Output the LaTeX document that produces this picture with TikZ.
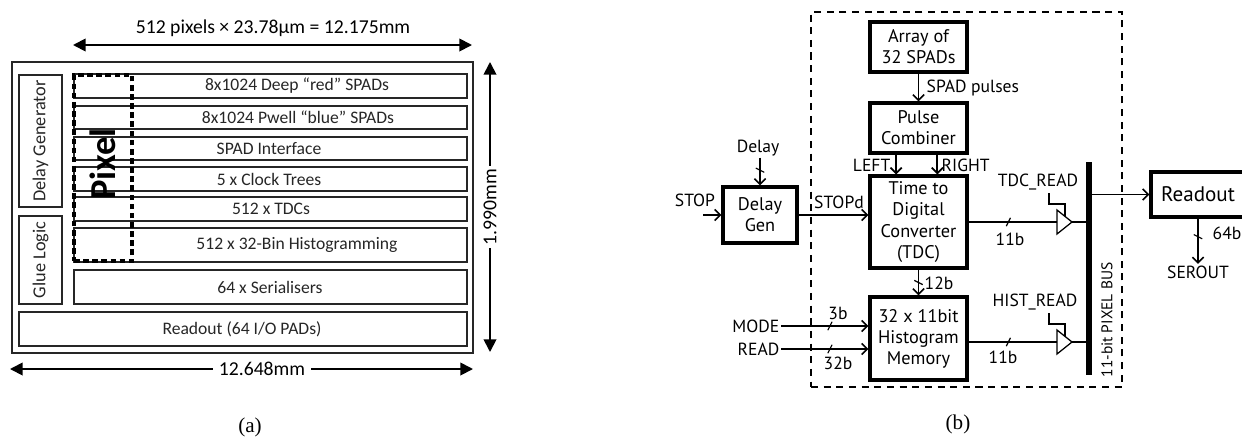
\documentclass[tikz,border=0pt]{standalone}
\usepackage{fontspec}
\setmainfont{Liberation Serif}
\newfontfamily\chipfont{Carlito}
\newfontfamily\blockfont{PT Sans}
\usetikzlibrary{arrows.meta, decorations.markings}

\tikzset{
  buswidth/.style={postaction={decorate},
    decoration={markings, mark=at position #1 with {\draw[line width=0.8pt,-] (-1.5pt,-3pt) -- (1.5pt,3pt);}}},
}

\begin{document}
\begin{tikzpicture}[x=0.025cm, y=-0.025cm,
    chip box/.style={draw=black!85, line width=1.1pt, inner sep=0pt},
    row text/.style={font=\chipfont\fontsize{12.5}{14}\selectfont, inner sep=0pt, text=black!85},
    dim text/.style={font=\chipfont\fontsize{14}{16}\selectfont, inner sep=2pt},
    dim arrow/.style={-{Triangle[length=9pt,width=9pt]}, line width=1.3pt},
    blk/.style={draw, line width=2.2pt, align=center, inner sep=0pt, font=\blockfont\fontsize{13}{15}\selectfont},
    lbl/.style={font=\blockfont\fontsize{12.5}{14}\selectfont, inner sep=1pt},
    arrow/.style={-{Straight Barb[length=4pt,width=8pt]}, line width=1.2pt},
    wire/.style={line width=0.9pt, line join=miter},
    caption/.style={font=\fontsize{15}{17}\selectfont}
    ]
    \useasboundingbox (0,0) rectangle (1242,441);

    % (a) floor plan
    \node[chip box, minimum width=11.525cm, minimum height=7.275cm] (chip) at (242.5,207.5) {};

    \node[chip box, minimum width=1.075cm, minimum height=3.3cm] (dgenblk) at (40.5,141) {};
    \node[row text, rotate=90, font=\chipfont\fontsize{13}{15}\selectfont] (dgentxt) at (40.5,141) {Delay Generator};
    \node[chip box, minimum width=1.075cm, minimum height=2.2cm] (glue) at (40.5,260) {};
    \node[row text, rotate=90, font=\chipfont\fontsize{13}{15}\selectfont] (gluetxt) at (40.5,260) {Glue Logic};

    \node[chip box, minimum width=9.825cm, minimum height=0.6cm] (deep) at (270.5,86) {};
    \node[row text] (deeptxt) at (297,86) {8x1024 Deep “red” SPADs};
    \node[chip box, minimum width=9.825cm, minimum height=0.575cm] (pwell) at (270.5,117.5) {};
    \node[row text] (pwelltxt) at (298,117.5) {8x1024 Pwell “blue” SPADs};
    \node[chip box, minimum width=9.825cm, minimum height=0.575cm] (intf) at (270.5,148.5) {};
    \node[row text] (intftxt) at (269,148.5) {SPAD Interface};
    \node[chip box, minimum width=9.825cm, minimum height=0.6cm] (clk) at (270.5,179) {};
    \node[row text] (clktxt) at (269,179) {5 x Clock Trees};
    \node[chip box, minimum width=9.825cm, minimum height=0.6cm] (tdcs) at (270.5,209) {};
    \node[row text] (tdcstxt) at (271,209) {512 x TDCs};
    \node[chip box, minimum width=9.825cm, minimum height=0.85cm] (histo) at (270.5,245) {};
    \node[row text] (histotxt) at (297,245) {512 x 32-Bin Histogramming};
    \node[chip box, minimum width=9.825cm, minimum height=0.85cm] (ser) at (270.5,287) {};
    \node[row text] (sertxt) at (270,287) {64 x Serialisers};
    \node[chip box, minimum width=11.2cm, minimum height=0.85cm] (pads) at (243,329) {};
    \node[row text] (padstxt) at (242,329) {Readout (64 I/O PADs)};

    \node[draw, line width=2.6pt, dash pattern=on 4pt off 2.5pt, minimum width=1.45cm, minimum height=4.65cm] (pixel) at (103,168) {};
    \node[rotate=90, font=\chipfont\bfseries\fontsize{26}{28}\selectfont, inner sep=0pt] (pixeltxt) at (103,164) {Pixel};

    % dimensions
    \coordinate (tl) at (73,45);
    \coordinate (tr) at (472,45);
    \draw[dim arrow, {Triangle[length=9pt,width=9pt]}-{Triangle[length=9pt,width=9pt]}] (tl) -- (tr);
    \node[dim text] (toplbl) at (273,28) {512 pixels × 23.78µm = 12.175mm};

    \coordinate (rt) at (490,62);
    \coordinate (rb) at (490,352);
    \node[dim text, rotate=90] (htlbl) at (490,207) {1.990mm};
    \draw[dim arrow] (htlbl) -- (rt);
    \draw[dim arrow] (htlbl) -- (rb);

    \coordinate (bl) at (10,369);
    \coordinate (br) at (473,369);
    \node[dim text, inner sep=4pt] (wdlbl) at (262,369) {12.648mm};
    \draw[dim arrow] (wdlbl) -- (bl);
    \draw[dim arrow] (wdlbl) -- (br);

    \node[caption] (capa) at (250,427) {(a)};

    % (b) pixel block diagram
    \node[draw, line width=0.9pt, dash pattern=on 5pt off 4pt, minimum width=7.775cm, minimum height=9.375cm] (pixframe) at (966.5,199.5) {};

    \node[blk, minimum width=2.425cm, minimum height=1.25cm] (array) at (918.5,47) {Array of\\32 SPADs};
    \node[blk, minimum width=2.425cm, minimum height=1.25cm] (pulse) at (918.5,128) {Pulse\\Combiner};
    \node[blk, minimum width=2.425cm, minimum height=2.3cm] (tdc) at (918.5,222) {Time to\\Digital\\Converter\\(TDC)};
    \node[blk, minimum width=2.425cm, minimum height=2.075cm] (hist) at (918.5,338.5) {32 x 11bit\\Histogram\\Memory};
    \node[blk, minimum width=1.85cm, minimum height=1.4cm] (dgen) at (760,215) {Delay\\Gen};
    \node[blk, minimum width=2.35cm, minimum height=1.125cm, font=\blockfont\fontsize{15}{17}\selectfont] (readout) at (1198,194.5) {Readout};

    \node[lbl, anchor=west] (spadlbl) at (925,88) {SPAD pulses};
    \node[lbl, anchor=east] (leftlbl) at (892,165) {LEFT};
    \node[lbl, anchor=west] (rightlbl) at (940,165) {RIGHT};
    \node[lbl] (delaylbl) at (758,148) {Delay};
    \node[lbl] (stoplbl) at (695,200) {STOP};
    \node[lbl] (stopdlbl) at (839,202) {STOPd};
    \node[lbl] (twelve) at (939,283) {12b};
    \node[lbl, anchor=east] (mode) at (781,326) {MODE};
    \node[lbl, anchor=east] (read) at (781,349) {READ};
    \node[lbl] (threeb) at (838,313) {3b};
    \node[lbl] (thirtytwob) at (838,363) {32b};
    \node[lbl] (tdcbits) at (1010,239) {11b};
    \node[lbl] (histbits) at (1003,357) {11b};
    \node[lbl] (tdcread) at (1038,182) {TDC\_READ};
    \node[lbl] (histread) at (1035,302) {HIST\_READ};
    \node[lbl, rotate=90, font=\blockfont\fontsize{11}{13}\selectfont] (buslbl) at (1107,320) {11-bit PIXEL BUS};
    \node[lbl] (sixtyfour) at (1227,233) {64b};
    \node[lbl] (serout) at (1198,272) {SEROUT};
    \node[caption] (capb) at (958,424) {(b)};

    % bus and buffers
    \coordinate (bustop) at (1089,162);
    \coordinate (busbot) at (1089,375);
    \draw[line width=4.3pt] (bustop) -- (busbot);

    \coordinate (tdcbuf) at (1057,222);
    \coordinate (tdcbufout) at (1072,222);
    \coordinate (tdcctl) at (1065,216);
    \draw[wire] (tdcbuf) ++(0,-12) -- ++(15,12) -- ++(-15,12) -- cycle;
    \draw[wire] (tdcctl) -- ++(0,-12) -- ++(-16,0) -- ++(0,-11);

    \coordinate (histbuf) at (1057,342);
    \coordinate (histbufout) at (1072,342);
    \coordinate (histctl) at (1065,336);
    \draw[wire] (histbuf) ++(0,-12) -- ++(15,12) -- ++(-15,12) -- cycle;
    \draw[wire] (histctl) -- ++(0,-12) -- ++(-16,0) -- ++(0,-11);

    % arrows
    \coordinate (stopin) at (703,215);
    \draw[arrow] (stopin) -- (dgen.west);
    \draw[arrow, buswidth=0.45] (delaylbl.south -| dgen.north) -- (dgen.north);
    \draw[arrow] (dgen.east) -- (dgen.east -| tdc.west);
    \draw[arrow] (array) -- (pulse);
    \draw[arrow] ([xshift=-0.56cm]pulse.south) -- ([xshift=-0.56cm]tdc.north);
    \draw[arrow] ([xshift=0.47cm]pulse.south) -- ([xshift=0.47cm]tdc.north);
    \draw[arrow, buswidth=0.5] (tdc) -- (hist);
    \draw[arrow, buswidth=0.56] (mode.east) -- (mode.east -| hist.west);
    \draw[arrow, buswidth=0.56] (read.east) -- (read.east -| hist.west);
    \draw[wire, buswidth=0.45] (tdc.east) -- (tdcbuf);
    \draw[wire] (tdcbufout) -- (tdcbufout -| bustop);
    \draw[wire, buswidth=0.45] (histbuf -| hist.east) -- (histbuf);
    \draw[wire] (histbufout) -- (histbufout -| bustop);
    \draw[arrow] (readout.west -| bustop) -- (readout.west);
    \draw[arrow, buswidth=0.4] (readout.south) -- (serout.north);

\end{tikzpicture}
\end{document}
